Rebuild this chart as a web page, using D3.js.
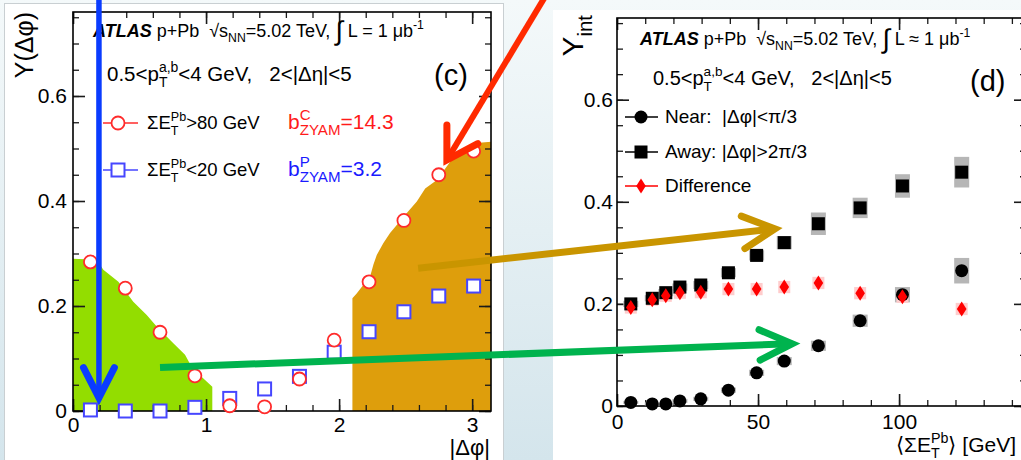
<!DOCTYPE html>
<html><head><meta charset="utf-8">
<script src="https://cdn.jsdelivr.net/npm/d3@7"></script>
<style>
html,body{margin:0;padding:0;background:#fff;}
svg{display:block;font-family:"Liberation Sans",Arial,Helvetica,sans-serif;}
text{white-space:pre;}
</style></head><body>
<svg id="fig" width="1021" height="460"></svg>
<script>
// ---- Panel (c): per-trigger yield vs |Δφ| ----
const dphiBins = [0.131, 0.393, 0.654, 0.916, 1.178, 1.440, 1.702, 1.963, 2.225, 2.487, 2.749, 3.011];
const yieldCentral = [0.284, 0.234, 0.150, 0.067, 0.010, 0.008, 0.061, 0.135, 0.246, 0.363, 0.450, 0.495];
const yieldPeripheral = [0.002, 0.000, 0.000, 0.007, 0.024, 0.042, 0.066, 0.112, 0.151, 0.189, 0.219, 0.238];
// near-side (|Δφ|<π/3) and away-side (|Δφ|>2π/3) integration regions
const nearFillDphi = [0, 0.178, 0.228, 0.341, 0.453, 0.554, 0.629, 0.754, 0.842, 0.892, 0.980, 1.047];
const nearFillYield = [0.290, 0.288, 0.269, 0.246, 0.208, 0.183, 0.161, 0.129, 0.107, 0.084, 0.062, 0.046];
const awayFillDphi = [2.100, 2.132, 2.170, 2.233, 2.258, 2.283, 2.333, 2.383, 2.446, 2.509, 2.584, 2.647, 2.735, 2.835, 2.910, 3.010, 3.1416];
const awayFillYield = [0.215, 0.224, 0.236, 0.256, 0.279, 0.297, 0.320, 0.339, 0.358, 0.377, 0.399, 0.424, 0.440, 0.475, 0.497, 0.510, 0.513];
const dphiTicks = [0, 1, 2, 3];
const yieldTicks = [0, 0.2, 0.4, 0.6];

// ---- Panel (d): integrated yields vs <ΣE_T^Pb> ----
const sumEt = [4.9, 12.5, 17.3, 22.3, 29.7, 39.5, 49.5, 59.3, 71.4, 86.2, 101.2, 122.2];
const nearInt = [0.007, 0.004, 0.004, 0.010, 0.014, 0.031, 0.065, 0.088, 0.118, 0.167, 0.218, 0.265];
const nearSys = [0.003, 0.003, 0.003, 0.004, 0.004, 0.005, 0.006, 0.008, 0.010, 0.012, 0.015, 0.025];
const awayInt = [0.200, 0.211, 0.222, 0.233, 0.237, 0.261, 0.295, 0.320, 0.357, 0.388, 0.431, 0.458];
const awaySys = [0.006, 0.006, 0.007, 0.007, 0.008, 0.009, 0.010, 0.013, 0.022, 0.020, 0.023, 0.030];
const diffInt = [0.193, 0.208, 0.216, 0.222, 0.223, 0.229, 0.229, 0.233, 0.241, 0.221, 0.214, 0.190];
const diffSys = [0.012, 0.012, 0.012, 0.012, 0.012, 0.012, 0.012, 0.012, 0.012, 0.012, 0.012, 0.012];
const sumEtTicks = [0, 50, 100];

const FONT = '"Liberation Sans",Arial,Helvetica,sans-serif';
const svg = d3.select('#fig');

// slide background
const defs = svg.append('defs');
const grad = defs.append('linearGradient').attr('id', 'bg').attr('x1', 0).attr('y1', 0).attr('x2', 0).attr('y2', 1);
grad.append('stop').attr('offset', '0%').attr('stop-color', '#f4f9fa');
grad.append('stop').attr('offset', '100%').attr('stop-color', '#d4e5ec');
svg.append('rect').attr('width', 1021).attr('height', 460).attr('fill', 'url(#bg)');
svg.append('rect').attr('x', 4.5).attr('y', 3.5).attr('width', 499).attr('height', 460)
  .attr('fill', '#fff').attr('stroke', '#c9cfd2');
svg.append('rect').attr('x', 553).attr('y', 10).attr('width', 470).attr('height', 452).attr('fill', '#fff');

const xC = d3.scaleLinear([0, Math.PI], [73, 491]);
const yC = d3.scaleLinear([0, 0.76], [411, 12]);
const xD = d3.scaleLinear([0, 145], [617, 1026]);
const yD = d3.scaleLinear([0, 0.76], [406, 18]);

// text with super/subscripts laid out piece by piece
function rich(parent, x, y, segs, base, opt = {}) {
  const g = parent.append('g').attr('fill', opt.fill || '#000');
  const ratio = opt.ss || 0.68;
  let cx = 0;
  for (const s of segs) {
    const seg = typeof s === 'string' ? { t: s } : s;
    if (seg.t !== undefined) {
      const size = base * (seg.scale || 1);
      const t = g.append('text').attr('x', cx).attr('y', seg.dy || 0).attr('font-size', size)
        .attr('font-weight', seg.bold ? 'bold' : null).attr('font-style', seg.italic ? 'italic' : null)
        .text(seg.t);
      cx += t.node().getComputedTextLength();
    } else {
      let w = 0;
      const ss = base * ratio;
      if (seg.sup) {
        const t = g.append('text').attr('x', cx).attr('y', -base * 0.45).attr('font-size', ss).text(seg.sup);
        w = Math.max(w, t.node().getComputedTextLength());
      }
      if (seg.sub) {
        const t = g.append('text').attr('x', cx).attr('y', base * 0.3).attr('font-size', ss).text(seg.sub);
        w = Math.max(w, t.node().getComputedTextLength());
      }
      cx += w;
    }
  }
  const x0 = opt.anchor === 'end' ? x - cx : x;
  g.attr('transform', `translate(${x0},${y})${opt.rotate ? ' rotate(' + opt.rotate + ',' + (x - x0) + ',0)' : ''}`);
  return g;
}

function frame(g, x, y, xt, xMinor, yt, yMinor, xPad, yPad) {
  const [x0, x1] = x.range(), [y0, y1] = y.range();
  const style = (a, w) => {
    a.select('.domain').remove();
    a.attr('font-family', FONT).attr('font-size', 21);
    a.selectAll('line').attr('stroke', '#1a1a1a').attr('stroke-width', w);
    a.selectAll('text').attr('fill', '#000');
  };
  const fmt = d3.format('~g');
  // minor ticks on all four sides
  g.append('g').attr('transform', `translate(0,${y0})`).call(d3.axisBottom(x).tickValues(xMinor).tickFormat('').tickSizeInner(-6).tickSizeOuter(0)).call(a => style(a, 1.3));
  g.append('g').attr('transform', `translate(0,${y1})`).call(d3.axisTop(x).tickValues(xMinor).tickFormat('').tickSizeInner(-6).tickSizeOuter(0)).call(a => style(a, 1.3));
  g.append('g').attr('transform', `translate(${x0},0)`).call(d3.axisLeft(y).tickValues(yMinor).tickFormat('').tickSizeInner(-6).tickSizeOuter(0)).call(a => style(a, 1.3));
  g.append('g').attr('transform', `translate(${x1},0)`).call(d3.axisRight(y).tickValues(yMinor).tickFormat('').tickSizeInner(-6).tickSizeOuter(0)).call(a => style(a, 1.3));
  // major ticks, labelled at bottom and left
  g.append('g').attr('transform', `translate(0,${y0})`).call(d3.axisBottom(x).tickValues(xt).tickFormat(fmt).tickSizeInner(-12).tickSizeOuter(0).tickPadding(xPad)).call(a => style(a, 1.6));
  g.append('g').attr('transform', `translate(0,${y1})`).call(d3.axisTop(x).tickValues(xt).tickFormat('').tickSizeInner(-12).tickSizeOuter(0)).call(a => style(a, 1.6));
  g.append('g').attr('transform', `translate(${x0},0)`).call(d3.axisLeft(y).tickValues(yt).tickFormat(fmt).tickSizeInner(-12).tickSizeOuter(0).tickPadding(yPad)).call(a => style(a, 1.6));
  g.append('g').attr('transform', `translate(${x1},0)`).call(d3.axisRight(y).tickValues(yt).tickFormat('').tickSizeInner(-12).tickSizeOuter(0)).call(a => style(a, 1.6));
  g.append('rect').attr('x', x0).attr('y', y1).attr('width', x1 - x0).attr('height', y0 - y1)
    .attr('fill', 'none').attr('stroke', '#000').attr('stroke-width', 1.6);
}

// ================= panel (c) =================
const gC = svg.append('g');
const area = (xs, ys, xsc, ysc) => {
  const pts = xs.map((v, i) => [xsc(v), ysc(ys[i])]);
  pts.push([xsc(xs[xs.length - 1]), ysc(0)], [xsc(xs[0]), ysc(0)]);
  return 'M' + pts.join('L') + 'Z';
};
gC.append('path').attr('d', area(nearFillDphi, nearFillYield, xC, yC)).attr('fill', '#93dd00');
gC.append('path').attr('d', area(awayFillDphi, awayFillYield, xC, yC)).attr('fill', '#de9e0c');

frame(gC, xC, yC, dphiTicks, d3.range(0, 3.15, 0.2), yieldTicks, d3.range(0, 0.76, 0.05), 6, 6);

gC.append('g').selectAll('rect').data(d3.zip(dphiBins, yieldPeripheral)).join('rect')
  .attr('x', d => xC(d[0]) - 6.5).attr('y', d => yC(d[1]) - 6.5).attr('width', 13).attr('height', 13)
  .attr('fill', '#fff').attr('stroke', '#4646ff').attr('stroke-width', 2);
gC.append('g').selectAll('circle').data(d3.zip(dphiBins, yieldCentral)).join('circle')
  .attr('cx', d => xC(d[0])).attr('cy', d => yC(d[1])).attr('r', 6.5)
  .attr('fill', '#fff').attr('stroke', '#ff2b2b').attr('stroke-width', 1.8);

// texts
rich(gC, 93, 37, [{ t: 'ATLAS', bold: true, italic: true }, ' p+Pb  ', '√', 's', { sub: 'NN' }, '=5.02 TeV, ', { t: '∫', scale: 1.5, dy: 3 }, ' L = 1 μb', { sup: '-1' }], 18);
rich(gC, 107, 81, ['0.5<p', { sup: 'a,b', sub: 'T' }, '<4 GeV,   2<|Δη|<5'], 20.5);
gC.append('text').attr('x', 434).attr('y', 85).attr('font-size', 29).text('(c)');

gC.append('line').attr('x1', 103).attr('x2', 138).attr('y1', 123).attr('y2', 123).attr('stroke', '#ff2b2b').attr('stroke-width', 1.5);
gC.append('circle').attr('cx', 118).attr('cy', 123).attr('r', 6.5).attr('fill', '#fff').attr('stroke', '#ff2b2b').attr('stroke-width', 1.8);
rich(gC, 147, 129, ['ΣE', { sup: 'Pb', sub: 'T' }, '>80 GeV'], 18.5);
rich(gC, 288, 129, ['b', { sup: 'C', sub: 'ZYAM' }, '=14.3'], 21, { fill: '#ff1a1a', ss: 0.72 });

gC.append('line').attr('x1', 103).attr('x2', 138).attr('y1', 170).attr('y2', 170).attr('stroke', '#4646ff').attr('stroke-width', 1.5);
gC.append('rect').attr('x', 111.5).attr('y', 163.5).attr('width', 13).attr('height', 13).attr('fill', '#fff').attr('stroke', '#4646ff').attr('stroke-width', 2);
rich(gC, 147, 176, ['ΣE', { sup: 'Pb', sub: 'T' }, '<20 GeV'], 18.5);
rich(gC, 288, 176, ['b', { sup: 'P', sub: 'ZYAM' }, '=3.2'], 21, { fill: '#1a1aff', ss: 0.72 });

gC.append('text').attr('x', 490).attr('y', 455).attr('font-size', 22).attr('text-anchor', 'end').text('|Δφ|');
gC.append('text').attr('transform', 'translate(33,12) rotate(-90)').attr('font-size', 25).attr('text-anchor', 'end').text('Y(Δφ)');

// ================= panel (d) =================
const gD = svg.append('g');
frame(gD, xD, yD, sumEtTicks, d3.range(0, 145, 10), yieldTicks, d3.range(0, 0.76, 0.05), 8, 4);

const sysBox = (vals, sys, col, w) => gD.append('g').selectAll('rect').data(d3.zip(sumEt, vals, sys)).join('rect')
  .attr('x', d => xD(d[0]) - w / 2).attr('y', d => yD(d[1] + d[2])).attr('width', w)
  .attr('height', d => yD(d[1] - d[2]) - yD(d[1] + d[2])).attr('fill', col);
sysBox(awayInt, awaySys, '#b6b6b6', 15);
sysBox(nearInt, nearSys, '#b6b6b6', 15);
sysBox(diffInt, diffSys, '#ffcccc', 12);

gD.append('g').selectAll('rect').data(d3.zip(sumEt, awayInt)).join('rect')
  .attr('x', d => xD(d[0]) - 6.5).attr('y', d => yD(d[1]) - 6.5).attr('width', 13).attr('height', 13).attr('fill', '#000');
gD.append('g').selectAll('circle').data(d3.zip(sumEt, nearInt)).join('circle')
  .attr('cx', d => xD(d[0])).attr('cy', d => yD(d[1])).attr('r', 6.5).attr('fill', '#000');
const diamond = 'M0,-7.5L4.8,0L0,7.5L-4.8,0Z';
gD.append('g').selectAll('path').data(d3.zip(sumEt, diffInt)).join('path')
  .attr('transform', d => `translate(${xD(d[0])},${yD(d[1])})`).attr('d', diamond).attr('fill', '#ff0000');

rich(gD, 640, 45, [{ t: 'ATLAS', bold: true, italic: true }, ' p+Pb  ', '√', 's', { sub: 'NN' }, '=5.02 TeV, ', { t: '∫', scale: 1.5, dy: 3 }, ' L ≈ 1 μb', { sup: '-1' }], 18);
rich(gD, 653, 85, ['0.5<p', { sup: 'a,b', sub: 'T' }, '<4 GeV,   2<|Δη|<5'], 20);
gD.append('text').attr('x', 970).attr('y', 91).attr('font-size', 29).text('(d)');

const legRows = [
  { y: 117, col: '#000', label: 'Near:  |Δφ|<π/3', mark: 'circle' },
  { y: 152, col: '#000', label: 'Away: |Δφ|>2π/3', mark: 'square' },
  { y: 186, col: '#ff0000', label: 'Difference', mark: 'diamond' }
];
legRows.forEach(r => {
  gD.append('line').attr('x1', 625).attr('x2', 658).attr('y1', r.y).attr('y2', r.y).attr('stroke', r.col).attr('stroke-width', 1.5);
  if (r.mark === 'circle') gD.append('circle').attr('cx', 641).attr('cy', r.y).attr('r', 6.5).attr('fill', r.col);
  if (r.mark === 'square') gD.append('rect').attr('x', 634.5).attr('y', r.y - 6.5).attr('width', 13).attr('height', 13).attr('fill', r.col);
  if (r.mark === 'diamond') gD.append('path').attr('transform', `translate(641,${r.y})`).attr('d', diamond).attr('fill', r.col);
  gD.append('text').attr('x', 665).attr('y', r.y + 6).attr('font-size', 19).text(r.label);
});

rich(gD, 1016, 452, ['⟨ΣE', { sup: 'Pb', sub: 'T' }, '⟩ [GeV]'], 21, { anchor: 'end' });
rich(gD, 583, 15, ['Y', { sub: 'int' }], 30, { anchor: 'end', rotate: -90 });

// ================= annotation arrows =================
function arrow(p0, p1, color, w, head, ang, headW) {
  const dx = p1[0] - p0[0], dy = p1[1] - p0[1], L = Math.hypot(dx, dy);
  const ux = dx / L, uy = dy / L, a = ang * Math.PI / 180;
  const arm = s => [p1[0] - head * (ux * Math.cos(a) - uy * Math.sin(a) * s), p1[1] - head * (uy * Math.cos(a) + ux * Math.sin(a) * s)];
  const g = svg.append('g').attr('fill', 'none').attr('stroke', color);
  g.append('line').attr('x1', p0[0]).attr('y1', p0[1]).attr('x2', p1[0] - ux * 2).attr('y2', p1[1] - uy * 2).attr('stroke-width', w);
  g.append('path').attr('d', `M${arm(1)}L${p1}L${arm(-1)}`).attr('stroke-width', headW)
    .attr('stroke-linejoin', 'miter').attr('stroke-linecap', 'round');
}
arrow([xC(0.195), yC(0.79)], [xC(0.195), yC(0.025)], '#0a3cff', 5.5, 34, 27, 7);
arrow([xC(3.55), yC(0.79)], [xC(2.81), yC(0.478)], '#ff2a00', 6, 35, 31, 7);
arrow([xC(2.594), yC(0.272)], [xD(56.0), yD(0.347)], '#c99500', 7, 36, 27, 7);
arrow([xC(0.654), yC(0.083)], [xD(62.1), yD(0.122)], '#00b34e', 7, 36, 25, 7);
</script>
</body></html>
